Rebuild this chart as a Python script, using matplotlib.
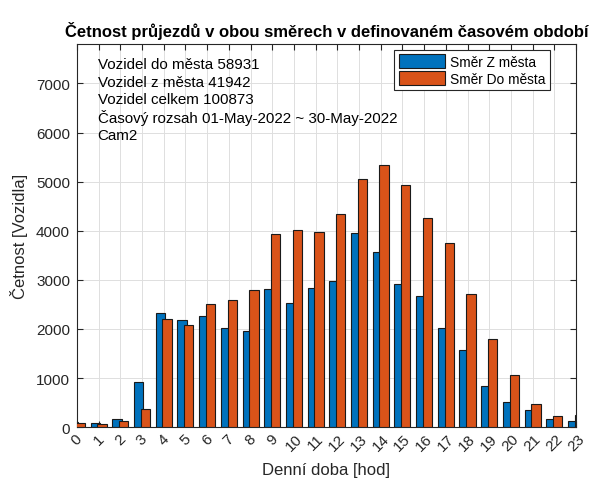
import matplotlib.pyplot as plt
import numpy as np

plt.rcParams['font.family'] = ['Liberation Sans', 'DejaVu Sans']

# Data
hodiny = np.arange(24)
z_mesta = [100, 90, 164, 922, 2315, 2172, 2260, 2028, 1960, 2814, 2527, 2828,
           2985, 3961, 3558, 2923, 2670, 2028, 1564, 847, 512, 348, 164, 130]
do_mesta = [82, 70, 116, 369, 2192, 2076, 2500, 2588, 2800, 3941, 4023, 3975,
            4351, 5061, 5341, 4931, 4262, 3750, 2711, 1803, 1052, 464, 225, 248]
info = ['Vozidel do města 58931',
        'Vozidel z města 41942',
        'Vozidel celkem 100873',
        'Časový rozsah 01-May-2022 ~ 30-May-2022',
        'Cam2']

fig = plt.figure(figsize=(5.92, 4.81), dpi=100)
ax = fig.add_axes([0.130, 0.110, 0.843, 0.796])

modra = '#0072BD'
oranzova = '#D95319'
ax.bar(hodiny - 0.155, z_mesta, width=0.43, color=modra, edgecolor='#1a1a1a',
       linewidth=0.8, label='Směr Z města', zorder=2)
ax.bar(hodiny + 0.155, do_mesta, width=0.43, color=oranzova, edgecolor='#1a1a1a',
       linewidth=0.8, label='Směr Do města', zorder=3)

ax.set_xlim(0, 23)
ax.set_ylim(0, 7800)
ax.set_xticks(hodiny)
ax.set_xticklabels([str(h) for h in hodiny], rotation=45, ha='center', fontsize=11)
ax.set_yticks(np.arange(0, 7001, 1000))
ax.tick_params(axis='y', labelsize=11, pad=5)
ax.tick_params(axis='x', pad=3)
ax.tick_params(direction='in', length=4, color='#262626', labelcolor='#262626', top=True, right=True)
ax.grid(True, color='#dedede', linewidth=0.7, zorder=0)
ax.set_axisbelow(True)
for s in ax.spines.values():
    s.set_color('#262626')
    s.set_linewidth(0.8)

ax.set_xlabel('Denní doba [hod]', fontsize=12, color='#262626', labelpad=6)
ax.set_ylabel('Četnost [Vozidla]', fontsize=12, color='#262626', labelpad=6)
ax.set_title('Četnost průjezdů v obou směrech v definovaném časovém období',
             fontsize=12, fontweight='bold', color='black', pad=6)

# textovy blok - kazdy radek zvlast kvuli stejnym mezeram
for i, radek in enumerate(info):
    ax.text(0.95, 7400 - i * 363, radek, fontsize=10.9, va='center', ha='left',
            color='black')

leg = ax.legend(loc='upper right', bbox_to_anchor=(0.953, 0.992), fontsize=9.9,
                fancybox=False, edgecolor='#262626', framealpha=1,
                handlelength=3.4, handleheight=1.15, borderpad=0.3,
                labelspacing=0.2, handletextpad=0.35, borderaxespad=0.2)
leg.get_frame().set_linewidth(0.8)

fig.savefig('out.png', dpi=100)
